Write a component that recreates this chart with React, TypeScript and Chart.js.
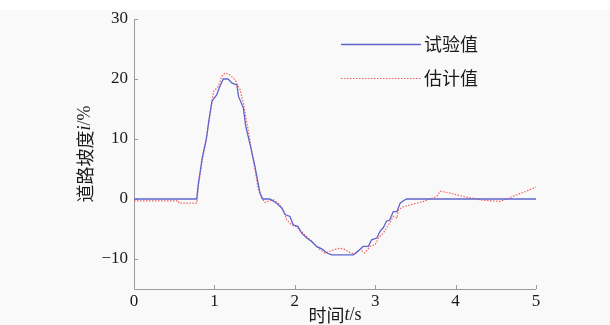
import React, { useEffect, useRef } from "react";
import { Chart, registerables } from "chart.js";

Chart.register(...registerables);

// ---- data ----
const blueT = [0, 0.78, 0.80, 0.85, 0.90, 0.93, 0.97, 1.03, 1.06, 1.11, 1.17, 1.22, 1.28, 1.30, 1.36, 1.39, 1.44, 1.505, 1.567, 1.60, 1.69, 1.775, 1.837, 1.88, 1.94, 1.98, 2.04, 2.085, 2.15, 2.21, 2.27, 2.335, 2.40, 2.46, 2.73, 2.81, 2.85, 2.915, 2.955, 3.02, 3.06, 3.10, 3.14, 3.18, 3.225, 3.27, 3.31, 3.35, 3.39, 5];
const blueV = [0, 0, 2.5, 7, 10, 13, 16.3, 17.4, 18.5, 20, 20, 19.3, 19.0, 17.1, 15.2, 12.1, 9.3, 5.4, 1.0, 0, 0, -0.7, -1.5, -2.6, -2.9, -4.3, -4.6, -5.7, -6.5, -7.1, -7.9, -8.3, -9.0, -9.3, -9.3, -8.4, -7.9, -7.9, -6.8, -6.5, -5.4, -4.8, -3.7, -3.5, -2.1, -2.1, -0.7, -0.3, 0, 0];

const redT = [0, 0.55, 0.56, 0.78, 0.80, 0.85, 0.90, 0.97, 0.99, 1.05, 1.09, 1.13, 1.19, 1.256, 1.32, 1.36, 1.39, 1.42, 1.46, 1.505, 1.546, 1.588, 1.63, 1.73, 1.795, 1.857, 1.90, 1.96, 2.02, 2.06, 2.125, 2.19, 2.25, 2.31, 2.376, 2.44, 2.50, 2.56, 2.62, 2.69, 2.75, 2.81, 2.87, 2.935, 3.0, 3.04, 3.10, 3.14, 3.18, 3.225, 3.27, 3.29, 3.35, 3.43, 3.515, 3.60, 3.68, 3.765, 3.81, 3.93, 4.01, 4.14, 4.26, 4.34, 4.55, 4.64, 4.76, 4.88, 5.0];
const redV = [-0.3, -0.3, -0.7, -0.7, 2.1, 6.5, 10, 16.3, 17.9, 18.8, 20.4, 21.0, 20.7, 19.9, 18.2, 16.0, 13.8, 11.5, 8.2, 4.9, 1.6, 0.2, -0.6, -0.1, -0.7, -1.8, -3.5, -4.3, -4.6, -5.1, -6.0, -6.8, -7.6, -8.4, -9.0, -8.7, -8.4, -8.2, -8.4, -9.0, -9.1, -8.4, -9.0, -7.9, -7.6, -6.5, -5.7, -4.8, -4.0, -2.9, -3.2, -1.8, -1.3, -1.0, -0.7, -0.4, 0, 0.4, 1.3, 1.0, 0.7, 0.3, 0, -0.2, -0.4, 0, 0.7, 1.3, 2.0];

const seriesNames = ["试验值", "估计值"];
const xTicks = [0, 1, 2, 3, 4, 5];
const yTicks = [-10, 0, 10, 20, 30];
const xMin = 0, xMax = 5, yMin = -15, yMax = 30;

const BLUE = "rgb(95,100,205)";
const RED = "rgb(240,95,95)";
const AXIS = "#9a9a9a";
const CJK = '"Noto Sans CJK SC"';
const SERIF = '"Liberation Serif", "Times New Roman", "DejaVu Serif", serif';

type Seg = { t: string; f: string };

function drawSegs(ctx: CanvasRenderingContext2D, segs: Seg[], cx: number, cy: number) {
  let total = 0;
  for (const s of segs) { ctx.font = s.f; total += ctx.measureText(s.t).width; }
  let x = cx - total / 2;
  ctx.textBaseline = "middle";
  ctx.textAlign = "left";
  for (const s of segs) {
    ctx.font = s.f;
    ctx.fillText(s.t, x, cy);
    x += ctx.measureText(s.t).width;
  }
}

const decor = {
  id: "decor",
  beforeDatasetsDraw(chart: any) {
    const { ctx, chartArea, scales } = chart;
    ctx.save();
    ctx.strokeStyle = AXIS;
    ctx.lineWidth = 1;
    ctx.beginPath();
    ctx.moveTo(chartArea.left + 0.5, chartArea.top);
    ctx.lineTo(chartArea.left + 0.5, chartArea.bottom + 0.5);
    ctx.lineTo(chartArea.right, chartArea.bottom + 0.5);
    ctx.stroke();
    ctx.beginPath();
    for (const v of xTicks) {
      const x = Math.round(scales.x.getPixelForValue(v)) + 0.5;
      ctx.moveTo(x, chartArea.bottom);
      ctx.lineTo(x, chartArea.bottom - 4);
    }
    for (const v of yTicks) {
      const y = Math.round(scales.y.getPixelForValue(v)) + 0.5;
      ctx.moveTo(chartArea.left, y);
      ctx.lineTo(chartArea.left + 4, y);
    }
    ctx.stroke();
    ctx.restore();
  },
  afterDraw(chart: any) {
    const { ctx, chartArea } = chart;
    ctx.save();
    ctx.fillStyle = "#1a1a1a";
    // x title
    const cx = (chartArea.left + chartArea.right) / 2;
    drawSegs(ctx, [
      { t: "时间", f: `18px ${CJK}` },
      { t: "t", f: `italic 18px ${SERIF}` },
      { t: "/s", f: `18px ${SERIF}` },
    ], cx, 315);
    // y title
    ctx.save();
    ctx.translate(85, (chartArea.top + chartArea.bottom) / 2);
    ctx.rotate(-Math.PI / 2);
    drawSegs(ctx, [
      { t: "道路坡度", f: `18px ${CJK}` },
      { t: "i", f: `italic 18px ${SERIF}` },
      { t: "/%", f: `18px ${SERIF}` },
    ], 0, 0);
    ctx.restore();
    // legend
    const ds = chart.data.datasets;
    const rows = [44, 78];
    ds.forEach((d: any, i: number) => {
      const y = rows[i] + 0.5;
      ctx.save();
      ctx.strokeStyle = d.borderColor;
      ctx.lineWidth = d.borderWidth;
      ctx.setLineDash(d.borderDash || []);
      ctx.beginPath();
      ctx.moveTo(341, y);
      ctx.lineTo(421, y);
      ctx.stroke();
      ctx.restore();
      ctx.font = `18px ${CJK}`;
      ctx.textAlign = "left";
      ctx.textBaseline = "middle";
      ctx.fillStyle = "#1a1a1a";
      ctx.fillText(d.label, 424, rows[i]);
    });
    ctx.restore();
  },
};

export default function App() {
  const ref = useRef<HTMLCanvasElement>(null);
  useEffect(() => {
    if (!ref.current) return;
    const chart = new Chart(ref.current, {
      type: "line",
      data: {
        datasets: [
          {
            label: seriesNames[0],
            data: blueT.map((t, i) => ({ x: t, y: blueV[i] })),
            borderColor: BLUE,
            borderWidth: 1.3,
            pointRadius: 0,
            tension: 0,
          },
          {
            label: seriesNames[1],
            data: redT.map((t, i) => ({ x: t, y: redV[i] })),
            borderColor: RED,
            borderWidth: 1.2,
            borderDash: [1.5, 1.5],
            pointRadius: 0,
            tension: 0,
          },
        ],
      },
      options: {
        animation: false,
        responsive: false,
        layout: { padding: { left: 0, top: 19, right: 74, bottom: 0 } },
        plugins: { legend: { display: false }, tooltip: { enabled: false } },
        scales: {
          x: {
            type: "linear",
            min: xMin,
            max: xMax,
            grid: { display: false, drawTicks: false },
            border: { display: false },
            afterFit: (s: any) => { s.height = 36; },
            afterBuildTicks: (s: any) => { s.ticks = xTicks.map((v) => ({ value: v })); },
            ticks: {
              padding: 2,
              color: "#1a1a1a",
              font: { family: SERIF, size: 17 },
              callback: (v: any) => String(v),
            },
          },
          y: {
            type: "linear",
            min: yMin,
            max: yMax,
            grid: { display: false, drawTicks: false },
            border: { display: false },
            afterFit: (s: any) => { s.width = 134; },
            afterBuildTicks: (s: any) => { s.ticks = yTicks.map((v) => ({ value: v })); },
            ticks: {
              padding: 6,
              color: "#1a1a1a",
              font: { family: SERIF, size: 17 },
              callback: (v: any) => (Number(v) < 0 ? "\u2212" + Math.abs(Number(v)) : String(v)),
            },
          },
        },
      },
      plugins: [decor],
    });
    return () => chart.destroy();
  }, []);
  return (
    <div
      style={{
        position: "absolute",
        left: 0,
        top: 0,
        width: 610,
        height: 325,
        background: "linear-gradient(#ffffff 0px, #ffffff 10px, #f9f9f9 10px, #f9f9f9 100%)",
      }}
    >
      <canvas ref={ref} width={610} height={325} style={{ display: "block" }} />
    </div>
  );
}
